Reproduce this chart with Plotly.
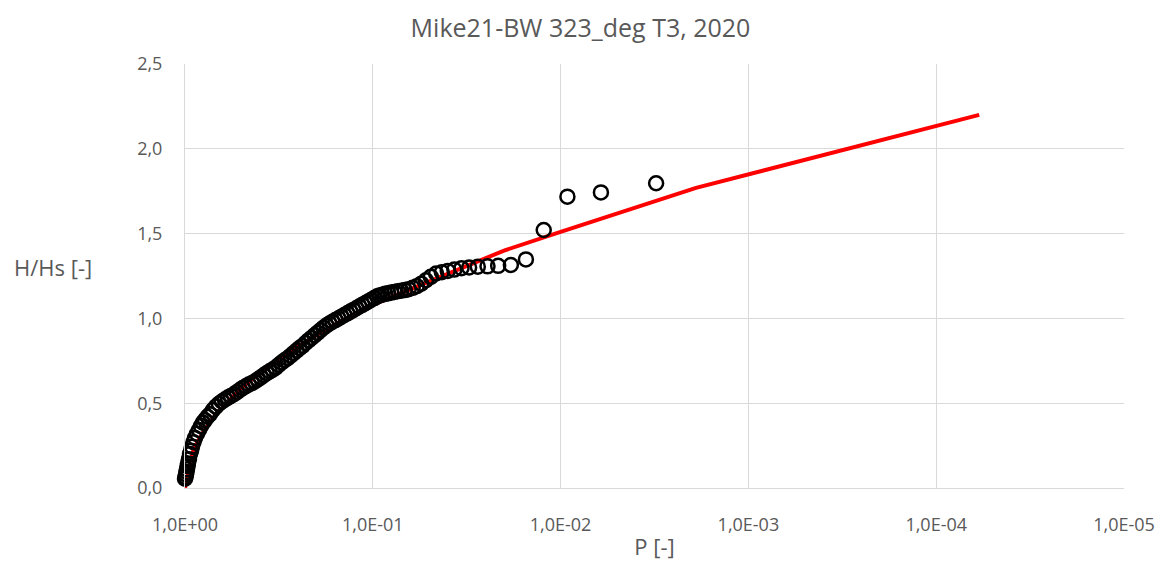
import plotly.graph_objects as go

p_obs = [1.000, 0.9939, 0.9878, 0.9818, 0.9758, 0.9698, 0.9639, 0.9522, 0.9406, 0.9291,
         0.9178, 0.9012, 0.8848, 0.8634, 0.8425, 0.8222, 0.8023, 0.7829, 0.7592, 0.7363,
         0.7098, 0.6843, 0.6597, 0.6359, 0.6131, 0.5910, 0.5698, 0.5493, 0.5295, 0.5105,
         0.4921, 0.4744, 0.4574, 0.4409, 0.4250, 0.4098, 0.3950, 0.3808, 0.3671, 0.3539,
         0.3412, 0.3289, 0.3171, 0.3057, 0.2947, 0.2841, 0.2739, 0.2640, 0.2545, 0.2454,
         0.2366, 0.2281, 0.2199, 0.2120, 0.2043, 0.1970, 0.1899, 0.1831, 0.1765, 0.1701,
         0.1640, 0.1581, 0.1524, 0.1470, 0.1417, 0.1366, 0.1317, 0.1269, 0.1224, 0.1180,
         0.1137, 0.1096, 0.1057, 0.1019, 0.0982, 0.0947,
         0.0920, 0.0890, 0.0859, 0.0828, 0.0798, 0.0767, 0.0736, 0.0706, 0.0675, 0.0644,
         0.0613, 0.0583, 0.0552, 0.0521, 0.0491, 0.0460, 0.0429, 0.0399, 0.0368, 0.0337,
         0.0307, 0.0276, 0.0245, 0.0215, 0.0184, 0.0153, 0.0123, 0.0092, 0.0061, 0.0031]
h_obs = [0.055, 0.065, 0.080, 0.095, 0.110, 0.128, 0.145, 0.170, 0.200, 0.220,
         0.243, 0.270, 0.295, 0.320, 0.342, 0.365, 0.385, 0.400, 0.420, 0.435,
         0.460, 0.480, 0.497, 0.510, 0.522, 0.533, 0.543, 0.553, 0.565, 0.578,
         0.590, 0.600, 0.610, 0.618, 0.628, 0.640, 0.652, 0.665, 0.677, 0.688,
         0.698, 0.710, 0.725, 0.740, 0.753, 0.765, 0.780, 0.795, 0.810, 0.825,
         0.838, 0.855, 0.870, 0.885, 0.900, 0.915, 0.930, 0.945, 0.958, 0.970,
         0.980, 0.990, 1.000, 1.010, 1.020, 1.030, 1.040, 1.050, 1.060, 1.070,
         1.080, 1.090, 1.100, 1.110, 1.120, 1.130,
         1.135, 1.140, 1.145, 1.148, 1.152, 1.156, 1.160, 1.163, 1.167, 1.172,
         1.180, 1.190, 1.205, 1.225, 1.245, 1.265, 1.272, 1.280, 1.288, 1.296,
         1.300, 1.305, 1.307, 1.310, 1.315, 1.348, 1.521, 1.718, 1.743, 1.797]

# Theoretical (Rayleigh-like) curve
p_fit = [1.0, 0.9, 0.8, 0.7, 0.6, 0.5, 0.4, 0.3, 0.2, 0.15, 0.1, 0.07, 0.05,
         0.03, 0.02, 0.01, 0.005, 0.0019, 0.000059]
h_fit = [0.0, 0.23, 0.33, 0.42, 0.50, 0.59, 0.68, 0.78, 0.90, 0.98, 1.08, 1.15, 1.22,
         1.32, 1.40, 1.51, 1.62, 1.77, 2.20]

x_tickvals = [1, 0.1, 0.01, 0.001, 0.0001, 0.00001]
x_ticktext = ["1,0E+00", "1,0E-01", "1,0E-02", "1,0E-03", "1,0E-04", "1,0E-05"]
y_tickvals = [0, 0.5, 1.0, 1.5, 2.0, 2.5]
y_ticktext = ["0,0", "0,5", "1,0", "1,5", "2,0", "2,5"]

grey = "#595959"
grid = "#d9d9d9"
font_family = "Open Sans, Noto Sans, sans-serif"

fig = go.Figure()
fig.add_trace(go.Scatter(x=p_fit, y=h_fit, mode="lines", cliponaxis=False,
                         line=dict(color="#ff0000", width=4), showlegend=False))
fig.add_trace(go.Scatter(x=p_obs, y=h_obs, mode="markers", cliponaxis=False,
                         marker=dict(symbol="circle-open", size=14,
                                     color="black", line=dict(width=2.5, color="black")),
                         showlegend=False))

plot_w = 1161 - 185 - 37
plot_h = 561 - 64 - 73

fig.update_layout(
    width=1161, height=561,
    margin=dict(l=185, r=37, t=64, b=73),
    paper_bgcolor="white", plot_bgcolor="white",
    font=dict(family=font_family, color=grey, size=17),
    title=dict(text="Mike21-BW 323_deg T3, 2020", x=0.5, xanchor="center",
               y=1 - 28 / 561, yanchor="middle",
               font=dict(size=25, color=grey, family=font_family)),
    xaxis=dict(type="log", range=[0, -5], tickvals=x_tickvals, ticktext=x_ticktext,
               showgrid=True, gridcolor=grid, gridwidth=1, automargin=False,
               showline=True, linecolor=grid, linewidth=1, zeroline=False,
               ticks="outside", ticklen=20, tickcolor="rgba(0,0,0,0)",
               tickfont=dict(size=18, color=grey),
               title=dict(text="P [-]", font=dict(size=22, color=grey), standoff=8)),
    yaxis=dict(range=[0, 2.5], tickvals=y_tickvals, ticktext=y_ticktext,
               showgrid=True, gridcolor=grid, gridwidth=1, automargin=False,
               showline=True, linecolor=grid, linewidth=1, zeroline=False,
               ticks="outside", ticklen=18, tickcolor="rgba(0,0,0,0)",
               tickfont=dict(size=18, color=grey)),
    annotations=[dict(text="H/Hs [-]", x=(53 - 185) / plot_w, y=(488 - 267) / plot_h,
                      xref="paper", yref="paper",
                      xanchor="center", yanchor="middle", showarrow=False,
                      font=dict(size=22, color=grey, family=font_family))]
)

fig.write_html("out.html")
